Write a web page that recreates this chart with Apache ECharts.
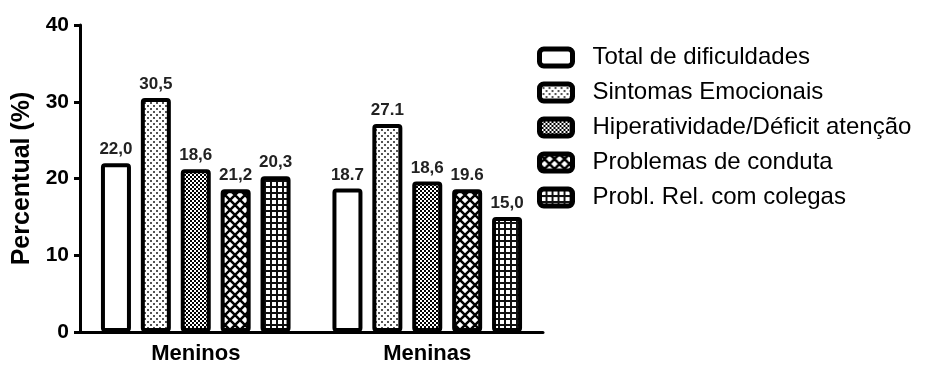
<!DOCTYPE html>
<html>
<head>
<meta charset="utf-8">
<script src="https://cdn.jsdelivr.net/npm/echarts@6/dist/echarts.min.js"></script>
<style>
  html, body { margin: 0; background: #fff; }
  #chart { width: 925px; height: 365px; }
</style>
</head>
<body>
<div id="chart"></div>
<script>
const groups = ['Meninos', 'Meninas']
const seriesNames = [
  'Total de dificuldades',
  'Sintomas Emocionais',
  'Hiperatividade/Déficit atenção',
  'Problemas de conduta',
  'Probl. Rel. com colegas'
]

// bar heights
const totalDificuldades = [22.0, 18.7]
const sintomasEmocionais = [30.5, 27.1]
const hiperatividade = [21.2, 19.6]
const problemasConduta = [18.6, 18.6]
const problRelColegas = [20.3, 15.0]

// labels as printed above the bars in the original
const totalLabels = ['22,0', '18.7']
const sintomasLabels = ['30,5', '27.1']
const hiperLabels = ['18,6', '18,6']
const condutaLabels = ['21,2', '19.6']
const colegasLabels = ['20,3', '15,0']

const font = "'Liberation Sans', Arial, sans-serif"

function makeTile(size, draw) {
  const c = document.createElement('canvas')
  c.width = size
  c.height = size
  const ctx = c.getContext('2d')
  ctx.fillStyle = '#fff'
  ctx.fillRect(0, 0, size, size)
  draw(ctx, size)
  return { image: c, repeat: 'repeat' }
}

// white fill
const plain = '#fff'
// sparse dots
const dots = makeTile(6, (ctx) => {
  ctx.fillStyle = '#555'
  ctx.fillRect(0, 0, 2, 2)
  ctx.fillRect(3, 3, 2, 2)
})
// fine checker
const checker = makeTile(4, (ctx) => {
  ctx.fillStyle = '#000'
  ctx.fillRect(2, 0, 2, 2)
  ctx.fillRect(0, 2, 2, 2)
})
// diagonal cross-hatch (diamonds)
const diamonds = makeTile(10, (ctx, s) => {
  ctx.strokeStyle = '#000'
  ctx.lineWidth = 2.5
  for (let k = -1; k <= 1; k++) {
    ctx.beginPath()
    ctx.moveTo(k * s, 0)
    ctx.lineTo(k * s + s, s)
    ctx.moveTo(k * s + s, 0)
    ctx.lineTo(k * s, s)
    ctx.stroke()
  }
})
// square grid
const grid = makeTile(6, (ctx) => {
  ctx.fillStyle = '#111'
  ctx.fillRect(0, 0, 6, 2)
  ctx.fillRect(0, 0, 2, 6)
})

const fills = [plain, dots, checker, diamonds, grid]
const values = [totalDificuldades, sintomasEmocionais, hiperatividade, problemasConduta, problRelColegas]
const labels = [totalLabels, sintomasLabels, hiperLabels, condutaLabels, colegasLabels]

const chart = echarts.init(document.getElementById('chart'))

const option = {
  animation: false,
  backgroundColor: '#fff',
  textStyle: { fontFamily: font },
  grid: { left: 80, right: 382, top: 25, bottom: 33 },
  legend: {
    orient: 'vertical',
    left: 537,
    top: 45,
    padding: 0,
    itemWidth: 33,
    itemHeight: 17,
    itemGap: 10,
    icon: 'roundRect',
    itemStyle: { borderColor: '#000', borderWidth: 5 },
    textStyle: {
      fontFamily: font,
      fontSize: 24,
      color: '#000',
      lineHeight: 25,
      padding: [0, 0, 0, 15]
    },
    data: seriesNames
  },
  xAxis: {
    type: 'category',
    data: groups,
    axisLine: { lineStyle: { color: '#000', width: 3 } },
    axisTick: { alignWithLabel: true, length: 8, lineStyle: { color: '#000', width: 3 } },
    axisLabel: { color: '#000', fontWeight: 'bold', fontSize: 22, margin: 11, fontFamily: font }
  },
  yAxis: {
    type: 'value',
    min: 0,
    max: 40,
    interval: 10,
    name: 'Percentual (%)',
    nameLocation: 'middle',
    nameRotate: 90,
    nameGap: 44,
    nameTextStyle: { color: '#000', fontWeight: 'bold', fontSize: 25, fontFamily: font },
    splitLine: { show: false },
    axisLine: { show: true, lineStyle: { color: '#000', width: 3 } },
    axisTick: { show: true, length: 6, lineStyle: { color: '#000', width: 3 } },
    axisLabel: { color: '#000', fontWeight: 'bold', fontSize: 21, margin: 11, fontFamily: font }
  },
  series: seriesNames.map((name, i) => ({
    name: name,
    type: 'bar',
    data: values[i],
    barWidth: 30,
    barGap: '33%',
    itemStyle: {
      color: fills[i],
      borderColor: '#000',
      borderWidth: 4,
      borderRadius: 2
    },
    label: {
      show: true,
      position: 'top',
      distance: 5,
      color: '#222',
      fontWeight: 'bold',
      fontSize: 17,
      fontFamily: font,
      formatter: (p) => labels[i][p.dataIndex]
    }
  }))
}

chart.setOption(option)
</script>
</body>
</html>
